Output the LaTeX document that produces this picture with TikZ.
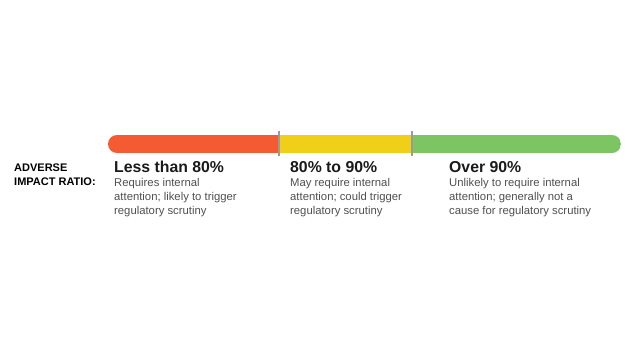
\documentclass[tikz,border=0pt]{standalone}
\usepackage{fontspec}
\setmainfont{Liberation Sans}
\definecolor{barred}{HTML}{F45B33}
\definecolor{baryellow}{HTML}{EFCF17}
\definecolor{bargreen}{HTML}{7DC462}
\definecolor{divgray}{HTML}{9A9A9A}
\definecolor{headtxt}{HTML}{1A1A1A}
\definecolor{bodytxt}{HTML}{505050}
\begin{document}
\begin{tikzpicture}[x=1pt,y=1pt,
  heading/.style={anchor=base west,inner sep=0pt,text=headtxt,font=\fontsize{15.8}{18}\selectfont\bfseries},
  bodytext/.style={anchor=north west,inner sep=0pt,text=bodytxt,align=left,font=\fontsize{11.3}{14}\selectfont},
  labeltext/.style={anchor=north west,inner sep=0pt,text=black,align=left,font=\fontsize{11}{14}\selectfont\bfseries},
  divider/.style={draw=divgray,line width=1.6pt}]
\useasboundingbox (0,0) rectangle (640,360);
\fill[white] (0,0) rectangle (640,360);
% bar
\begin{scope}
  \clip[rounded corners=9pt] (108,207) rectangle (621,225);
  \fill[barred] (108,207) rectangle (279,225);
  \fill[baryellow] (279,207) rectangle (412,225);
  \fill[bargreen] (412,207) rectangle (621,225);
\end{scope}
\coordinate (d1top) at (279,229);
\coordinate (d1bot) at (279,204);
\coordinate (d2top) at (412,229);
\coordinate (d2bot) at (412,204);
\draw[divider] (d1top) -- (d1bot);
\draw[divider] (d2top) -- (d2bot);
% left label
\node[labeltext] (air) at (14,196.5) {ADVERSE\\IMPACT RATIO:};
% columns
\node[heading] (h1) at (114,188) {Less than 80\%};
\node[bodytext] (b1) at (114,182.3) {Requires internal\\attention; likely to trigger\\regulatory scrutiny};
\node[heading] (h2) at (290,188) {80\% to 90\%};
\node[bodytext] (b2) at (290,182.3) {May require internal\\attention; could trigger\\regulatory scrutiny};
\node[heading] (h3) at (449,188) {Over 90\%};
\node[bodytext] (b3) at (449,182.3) {Unlikely to require internal\\attention; generally not a\\cause for regulatory scrutiny};
\end{tikzpicture}
\end{document}
